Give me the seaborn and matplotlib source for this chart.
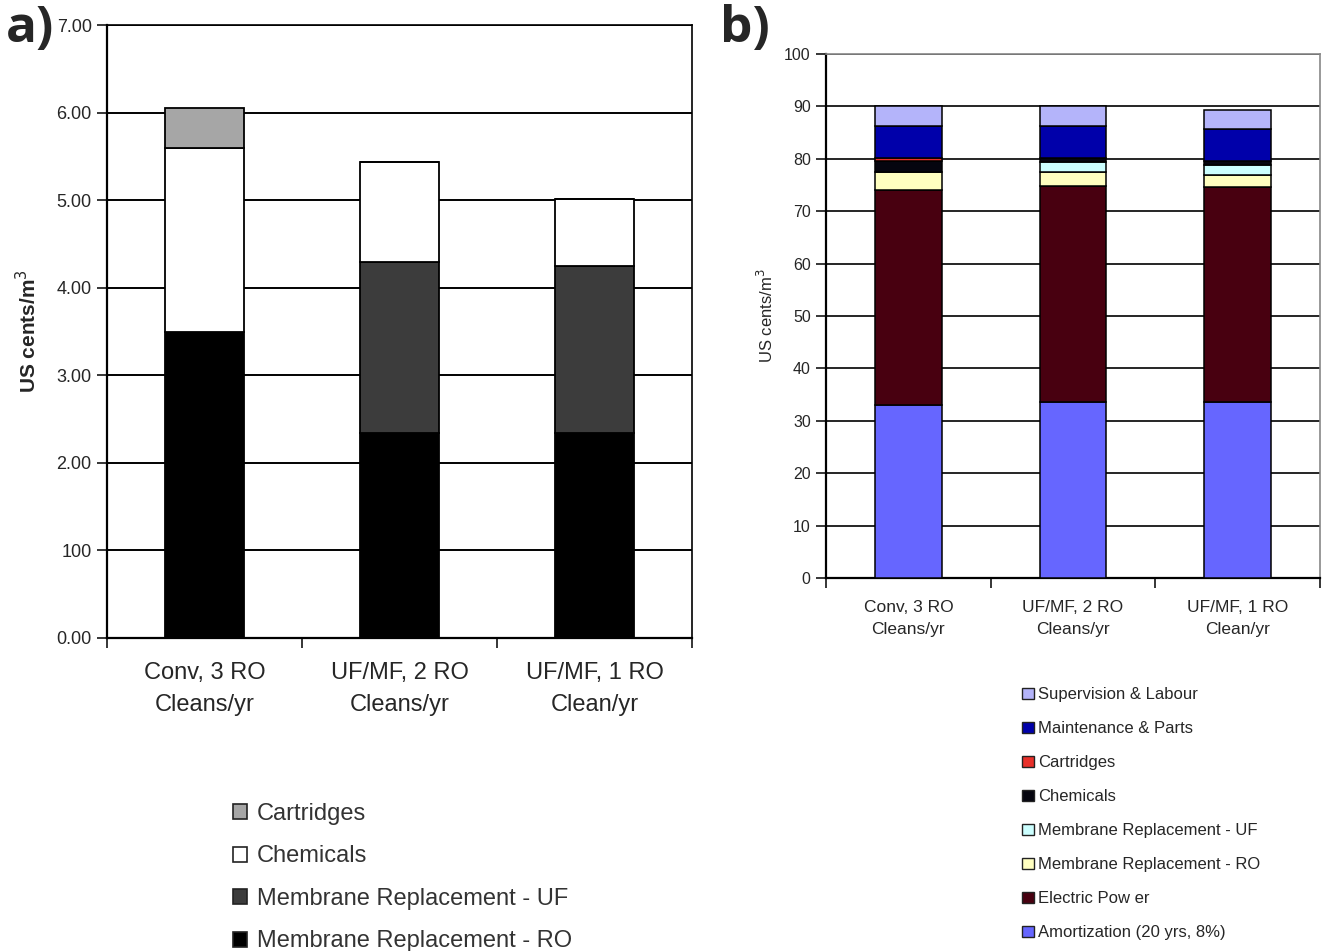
import matplotlib
matplotlib.use("Agg")
import matplotlib.pyplot as plt
from matplotlib.patches import Patch
import numpy as np
import seaborn as sns

categories = ["Conv, 3 RO\nCleans/yr", "UF/MF, 2 RO\nCleans/yr", "UF/MF, 1 RO\nClean/yr"]

# panel a, US cents/m3, stacked bottom -> top
a_names = ["Membrane Replacement - RO", "Membrane Replacement - UF", "Chemicals", "Cartridges"]
a_ro = [3.50, 2.34, 2.34]
a_uf = [0.00, 1.95, 1.91]
a_chem = [2.09, 1.15, 0.76]
a_cart = [0.46, 0.00, 0.00]
a_colors = ["#000000", "#3c3c3c", "#ffffff", "#a6a6a6"]
a_yticks = [0, 1, 2, 3, 4, 5, 6, 7]
a_yticklabels = ["0.00", "100", "2.00", "3.00", "4.00", "5.00", "6.00", "7.00"]

# panel b, US cents/m3, stacked bottom -> top
b_names = ["Amortization (20 yrs, 8%)", "Electric Pow er", "Membrane Replacement - RO",
           "Membrane Replacement - UF", "Chemicals", "Cartridges",
           "Maintenance & Parts", "Supervision & Labour"]
b_amort = [33.0, 33.6, 33.6]
b_power = [41.1, 41.3, 41.0]
b_ro = [3.4, 2.5, 2.3]
b_uf = [0.0, 1.9, 1.9]
b_chem = [2.1, 0.9, 0.8]
b_cart = [0.5, 0.0, 0.0]
b_maint = [6.2, 6.1, 6.0]
b_superv = [3.7, 3.7, 3.7]
b_colors = ["#6666ff", "#480010", "#ffffc0", "#ccffff", "#05050f", "#e8302a", "#0000aa", "#b4b4fa"]
b_yticks = [0, 10, 20, 30, 40, 50, 60, 70, 80, 90, 100]

sns.set_theme(style="white")
plt.rcParams["font.family"] = ["Liberation Sans", "DejaVu Sans"]

fig = plt.figure(figsize=(13.25, 9.51), dpi=100)
ax_a = fig.add_axes([107 / 1325, 1 - 638 / 951, 585 / 1325, 613 / 951])
ax_b = fig.add_axes([826 / 1325, 1 - 578 / 951, 494 / 1325, 524 / 951])


def draw_stack(ax, series, colors, lw):
    bottom = np.zeros(len(categories))
    for vals, col in zip(series, colors):
        sns.barplot(x=categories, y=vals, bottom=bottom.copy(), color=col, width=0.405,
                    saturation=1, edgecolor="black", linewidth=lw, errorbar=None,
                    ax=ax, zorder=3)
        bottom += np.asarray(vals)


def style_axes(ax, yticks, yticklabels, ymax, tick_fs, x_fs, x_pad, grid_lw, frame_col):
    ax.set_ylim(0, ymax)
    ax.set_xlim(-0.5, 2.5)
    ax.set_yticks(yticks)
    ax.set_yticklabels(yticklabels, fontsize=tick_fs)
    ax.set_xticks([0, 1, 2])
    ax.set_xticklabels(categories, fontsize=x_fs, linespacing=1.6)
    ax.set_xticks([-0.5, 0.5, 1.5, 2.5], minor=True)
    ax.tick_params(axis="x", which="major", length=0, pad=x_pad)
    ax.tick_params(axis="x", which="minor", bottom=True, length=7, width=1.3, direction="out")
    ax.tick_params(axis="y", left=True, length=7, width=1.3, direction="out", pad=4)
    ax.yaxis.grid(True, color="black", linewidth=grid_lw)
    ax.set_axisbelow(True)
    ax.set_xlabel("")
    for side in ["left", "bottom"]:
        ax.spines[side].set_color("black")
        ax.spines[side].set_linewidth(1.6)
    for side in ["top", "right"]:
        ax.spines[side].set_color(frame_col)
        ax.spines[side].set_linewidth(1.2)


draw_stack(ax_a, [a_ro, a_uf, a_chem, a_cart], a_colors, 1.3)
style_axes(ax_a, a_yticks, a_yticklabels, 7, 13, 17, 17, 1.4, "black")
ax_a.set_ylabel("US cents/m$^3$", fontsize=15, fontweight="bold", labelpad=12)

draw_stack(ax_b, [b_amort, b_power, b_ro, b_uf, b_chem, b_cart, b_maint, b_superv], b_colors, 1.1)
style_axes(ax_b, b_yticks, [str(t) for t in b_yticks], 100, 11.5, 12.5, 16, 1.2, "#888888")
ax_b.set_ylabel("US cents/m$^3$", fontsize=12, labelpad=6)

fig.text(6 / 1325, 1 - 4 / 951, "a)", fontsize=37, fontweight="bold",
         family=["Open Sans", "DejaVu Sans"], va="top", ha="left")
fig.text(720 / 1325, 1 - 4 / 951, "b)", fontsize=37, fontweight="bold",
         family=["Open Sans", "DejaVu Sans"], va="top", ha="left")

# legends list the top of the stack first
a_handles = [Patch(facecolor=c, edgecolor="#222222", linewidth=1.2) for c in a_colors[::-1]]
fig.legend(a_handles, a_names[::-1], loc="upper left",
           bbox_to_anchor=(221 / 1325, 1 - 791 / 951), frameon=False, borderpad=0,
           handlelength=0.6, handleheight=0.6, handletextpad=0.42,
           labelspacing=0.87, labelcolor="#333333", prop={"size": 17})

b_handles = [Patch(facecolor=c, edgecolor="#222222", linewidth=1.0) for c in b_colors[::-1]]
fig.legend(b_handles, b_names[::-1], loc="upper left",
           bbox_to_anchor=(1014 / 1325, 1 - 679 / 951), frameon=False, borderpad=0,
           handlelength=0.72, handleheight=0.72, handletextpad=0.2,
           labelspacing=1.14, prop={"size": 12})

fig.savefig("out.png", dpi=100, facecolor="white")
